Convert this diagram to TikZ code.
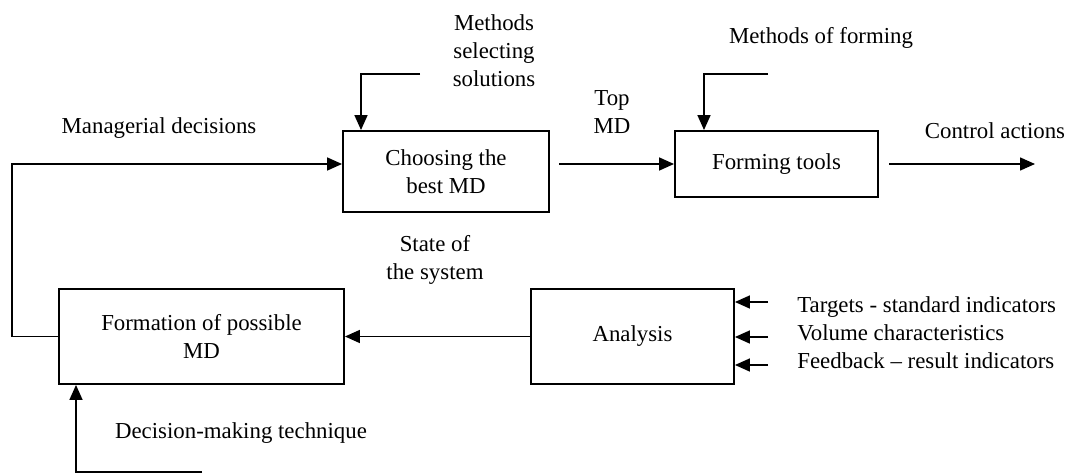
\documentclass[tikz,border=0pt]{standalone}
\usepackage{fontspec}
\setmainfont{Liberation Serif}
\usetikzlibrary{arrows.meta}

\tikzset{
	block/.style={draw, line width=1.1pt, align=center, inner sep=0pt},
	flow/.style={line width=0.9pt, -{Triangle[length=0.3cm, width=0.26cm]}},
	lbl/.style={align=center, inner sep=0pt}
}

\begin{document}
\begin{tikzpicture}[x=0.02cm, y=-0.02cm, font=\fontsize{13}{15.9}\selectfont]
		
		\useasboundingbox (0,0) rectangle (1072,473);
		
		% Blocks
		\node [block,
		minimum width=4.12cm,
		minimum height=1.62cm] (choose) at (446,171.5) {Choosing the\\best MD};
		
		\node [block,
		minimum width=4.06cm,
		minimum height=1.32cm] (form) at (776.5,164) {Forming tools};
		
		\node [block,
		minimum width=5.7cm,
		minimum height=1.9cm] (possible) at (201.5,336.5) {Formation of possible\\MD};
		
		\node [block,
		minimum width=4.06cm,
		minimum height=1.9cm] (analysis) at (632.5,336.5) {Analysis};
		
		% Free ends of the connectors
		\coordinate (mdL) at (12,164);
		\coordinate (selA) at (420,74);
		\coordinate (selB) at (361,74);
		\coordinate (topA) at (559,164);
		\coordinate (forA) at (768,74);
		\coordinate (forB) at (704,74);
		\coordinate (ctrlA) at (889,164);
		\coordinate (ctrlB) at (1035,164);
		\coordinate (in1) at (768,302);
		\coordinate (in2) at (768,337);
		\coordinate (in3) at (768,365);
		\coordinate (techA) at (202,472);
		\coordinate (techB) at (76,472);
		
		% Connectors
		\draw [flow] (possible.west) -| (mdL) -- (mdL -| choose.west);
		
		\draw [flow] (selA) -- (selB) -- (selB |- choose.north);
		
		\draw [flow] (topA) -- (topA -| form.west);
		
		\draw [flow] (forA) -- (forB) -- (forB |- form.north);
		
		\draw [flow] (ctrlA) -- (ctrlB);
		
		\draw [flow] (analysis.west) -- (possible.east);
		
		\draw [flow] (in1) -- (in1 -| analysis.east);
		\draw [flow] (in2) -- (in2 -| analysis.east);
		\draw [flow] (in3) -- (in3 -| analysis.east);
		
		\draw [flow] (techA) -- (techB) -- (techB |- possible.south);
		
		% Labels
		\node [lbl] (mdtxt) at (159,128) {Managerial decisions};
		
		\node [lbl] (seltxt) at (494,51) {Methods\\selecting\\solutions};
		
		\node [lbl] (toptxt) at (612,112) {Top\\MD};
		
		\node [lbl] (fortxt) at (821,38) {Methods of forming};
		
		\node [lbl] (ctrltxt) at (995,131) {Control actions};
		
		\node [lbl] (statetxt) at (435,260) {State of\\the system};
		
		\node [lbl, align=left, anchor=west] (intxt) at (797,333) {Targets - standard indicators\\Volume characteristics\\Feedback -- result indicators};
		
		\node [lbl] (techtxt) at (241,433) {Decision-making technique};
		
	\end{tikzpicture}
\end{document}
